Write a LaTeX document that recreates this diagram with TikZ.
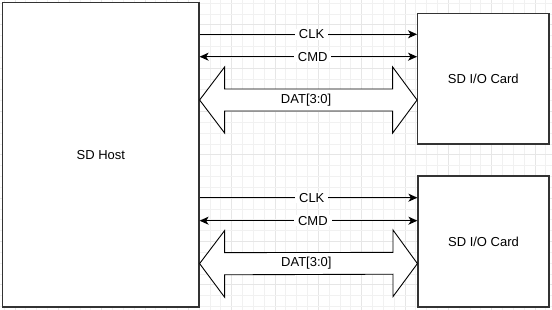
\documentclass[tikz,border=0pt]{standalone}
\usepackage{fontspec}
\setmainfont{Liberation Sans}
\usetikzlibrary{arrows.meta}
\definecolor{gridminor}{HTML}{F1F1F1}
\definecolor{gridmajor}{HTML}{E6E6E6}
\definecolor{edgec}{HTML}{333333}
\begin{document}
\begin{tikzpicture}[x=1pt,y=-1pt,
  box/.style={draw=edgec, line width=1.2pt, fill=white, inner sep=0pt, font=\fontsize{13}{15}\selectfont},
  wire/.style={line width=1.1pt, draw=black},
  onetip/.style={-{Stealth[length=9pt,width=8pt,inset=2.5pt]}},
  twotip/.style={{Stealth[length=9pt,width=8pt,inset=2.5pt]}-{Stealth[length=9pt,width=8pt,inset=2.5pt]}},
  lbl/.style={fill=white, inner xsep=4pt, inner ysep=1pt, font=\fontsize{13}{15}\selectfont},
  buslbl/.style={inner sep=1pt, font=\fontsize{13}{15}\selectfont},
  bus/.style={draw=black, line width=0.9pt, fill=white, line join=miter}]
\useasboundingbox (0,0) rectangle (552,310);
\fill[white] (0,0) rectangle (552,310);
% background grid
\foreach \k in {0,...,50} {
  \pgfmathtruncatemacro{\m}{mod(\k,4)}
  \ifnum\m=1
    \draw[gridmajor, line width=0.8pt] ({4.2+\k*10.833},0) -- ({4.2+\k*10.833},310);
  \else
    \draw[gridminor, line width=0.8pt] ({4.2+\k*10.833},0) -- ({4.2+\k*10.833},310);
  \fi
}
\foreach \k in {0,...,28} {
  \pgfmathtruncatemacro{\m}{mod(\k,4)}
  \ifnum\m=2
    \draw[gridmajor, line width=0.8pt] (0,{3.2+\k*10.833}) -- (552,{3.2+\k*10.833});
  \else
    \draw[gridminor, line width=0.8pt] (0,{3.2+\k*10.833}) -- (552,{3.2+\k*10.833});
  \fi
}
% blocks
\node[box, minimum width=196.3pt, minimum height=304.3pt] (host) at (100.85,154.85) {SD Host};
\node[box, minimum width=131.3pt, minimum height=130.7pt] (card1) at (483.3,78.7) {SD I/O Card};
\node[box, minimum width=131pt, minimum height=131pt] (card2) at (483.5,241.5) {SD I/O Card};
% group 1
\draw[wire, onetip] (host.east |- 0,34.3) -- (card1.west |- 0,34.3) node[lbl, pos=0.515] {CLK};
\draw[wire, twotip] (host.east |- 0,56.7) -- (card1.west |- 0,56.7) node[lbl, pos=0.52] {CMD};
\coordinate (b1l) at (host.east |- 0,100);
\coordinate (b1r) at (card1.west |- 0,100);
\draw[bus] (b1l) -- ++(25,-33) -- ++(0,22) -- ([xshift=-24.4pt,yshift=11pt]b1r) -- ++(0,-22) -- (b1r)
  -- ++(-24.4,33) -- ++(0,-22) -- ([xshift=25pt,yshift=-11pt]b1l) -- ++(0,22) -- cycle;
\path (b1l) -- (b1r) node[buslbl, pos=0.49] {DAT[3:0]};
% group 2
\draw[wire, onetip] (host.east |- 0,197.7) -- (card2.west |- 0,197.7) node[lbl, pos=0.515] {CLK};
\draw[wire, twotip] (host.east |- 0,220.7) -- (card2.west |- 0,220.7) node[lbl, pos=0.52] {CMD};
\coordinate (b2l) at (host.east |- 0,263.6);
\coordinate (b2r) at (card2.west |- 0,263.6);
\draw[bus] (b2l) -- ++(25,-33) -- ++(0,22) -- ([xshift=-24.4pt,yshift=11.2pt]b2r) -- ++(0,-22.4) -- (b2r)
  -- ++(-24.4,33) -- ++(0,-22.4) -- ([xshift=25pt,yshift=-11.2pt]b2l) -- ++(0,22.4) -- cycle;
\path (b2l) -- (b2r) node[buslbl, pos=0.49] {DAT[3:0]};
\end{tikzpicture}
\end{document}
